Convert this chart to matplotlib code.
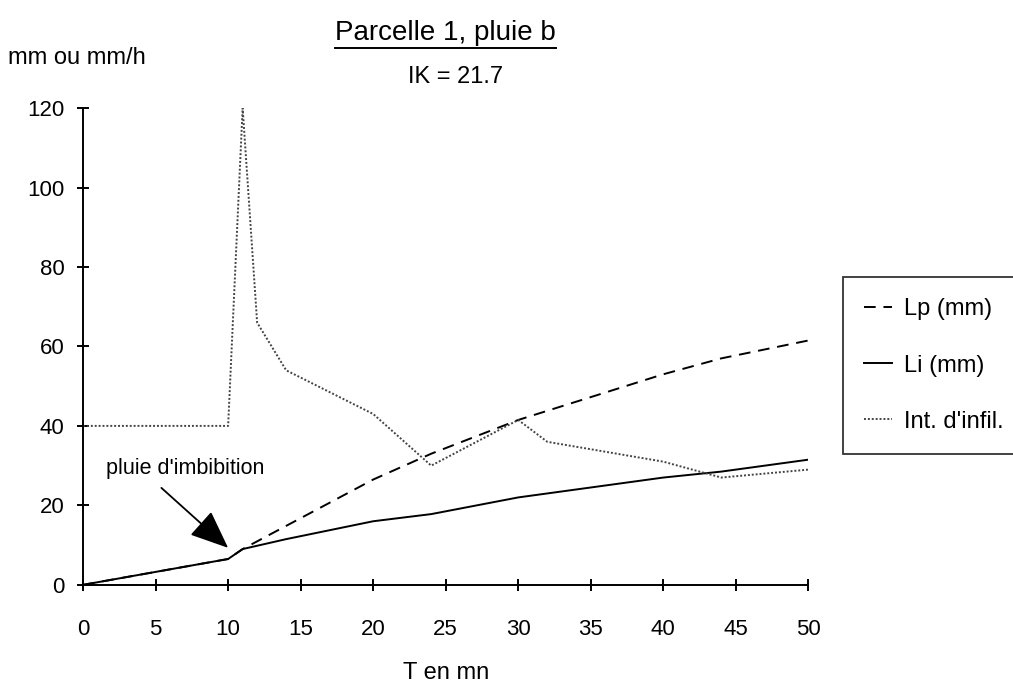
import matplotlib
matplotlib.use("Agg")
import matplotlib.pyplot as plt

plt.rcParams['font.family'] = ['Liberation Sans', 'DejaVu Sans']

# temps (mn) et valeurs
t_lp = [0, 10, 11, 20, 24, 30, 40, 44, 50]
lp = [0, 6.5, 9, 26.5, 33, 41.5, 53, 57, 61.5]

t_li = [0, 10, 11, 14, 20, 24, 30, 40, 44, 50]
li = [0, 6.5, 9, 11.5, 16, 17.8, 22, 27, 28.5, 31.5]

t_inf = [0, 10, 11, 12, 14, 20, 24, 30, 32, 40, 44, 50]
inf = [40, 40, 120, 66, 54, 43, 30, 41.5, 36, 31, 27, 29]

xticks = [0, 5, 10, 15, 20, 25, 30, 35, 40, 45, 50]
yticks = [0, 20, 40, 60, 80, 100, 120]

fig = plt.figure(figsize=(10.13, 6.84), dpi=100)
ax = fig.add_axes([0.082, 0.145, 0.716, 0.697])

ax.plot(t_lp, lp, color='black', lw=1.4, ls=(0, (6, 4)), label='Lp (mm)')
ax.plot(t_li, li, color='black', lw=1.4, label='Li (mm)')
ax.plot(t_inf, inf, color='#444444', lw=1.4, ls=(0, (1, 1)), label="Int. d'infil.")

ax.set_xlim(0, 50)
ax.set_ylim(0, 120)
ax.set_xticks(xticks)
ax.set_yticks(yticks)
ax.spines['top'].set_visible(False)
ax.spines['right'].set_visible(False)
for s in ['left', 'bottom']:
    ax.spines[s].set_linewidth(1.4)
ax.tick_params(direction='inout', length=9, width=1.4, labelsize=16)
ax.tick_params(axis='x', pad=20)
ax.tick_params(axis='y', pad=9)
ax.set_xlabel('T en mn', fontsize=17, labelpad=16)

# annotation : texte et fleche separes
ax.text(1.55, 29.2, "pluie d'imbibition", fontsize=15.5, ha='left', va='center')
ax.annotate("", xy=(10, 9.3), xytext=(5.4, 24.4),
            arrowprops=dict(arrowstyle='-|>,head_length=2.4,head_width=1.0',
                            color='black', lw=1.3, shrinkA=0, shrinkB=0))

ttl = fig.text(0.44, 0.952, 'Parcelle 1, pluie b', fontsize=20, ha='center', va='center')
fig.text(0.008, 0.915, 'mm ou mm/h', fontsize=17, ha='left', va='center')
fig.text(0.45, 0.887, 'IK = 21.7', fontsize=17, ha='center', va='center')

leg = fig.legend(loc='upper left', bbox_to_anchor=(0.832, 0.595), fontsize=17,
                 handlelength=1.2, handletextpad=0.5, labelspacing=1.45,
                 borderpad=0.9, frameon=True, fancybox=False, borderaxespad=0)
leg.get_frame().set_edgecolor('black')
leg.get_frame().set_linewidth(1.3)

# soulignement du titre
fig.canvas.draw()
bb = ttl.get_window_extent().transformed(fig.transFigure.inverted())
fig.add_artist(plt.Line2D([bb.x0, bb.x1], [bb.y0 - 0.003, bb.y0 - 0.003],
                          transform=fig.transFigure, color='black', lw=1.4))

fig.savefig('out.png', dpi=100)
